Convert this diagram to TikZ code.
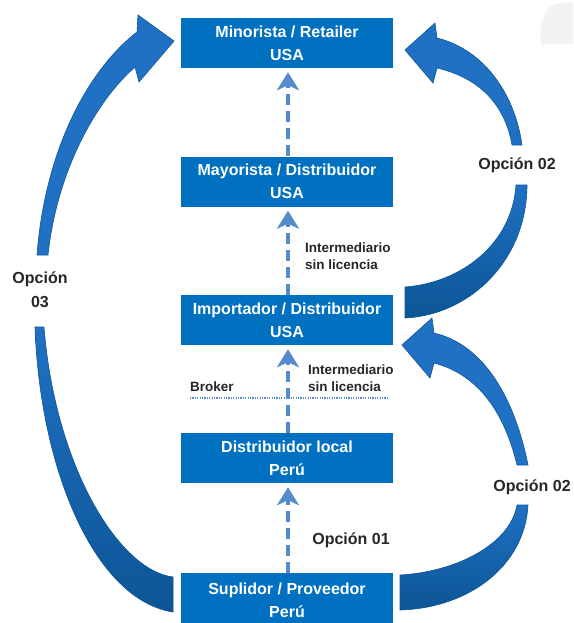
\documentclass[tikz,border=0pt]{standalone}
\usepackage{fontspec}
\setmainfont{Liberation Sans}
\usetikzlibrary{arrows.meta}
\definecolor{boxblue}{RGB}{0,112,192}
\definecolor{arrlight}{RGB}{32,112,196}
\definecolor{arrdark}{RGB}{12,86,150}
\definecolor{dashblue}{RGB}{86,138,206}
\definecolor{txt}{RGB}{38,38,38}
\tikzset{
  caja/.style={fill=boxblue, text=white, minimum width=212pt, minimum height=50pt,
    align=center, inner sep=0pt, font=\bfseries\fontsize{16}{23}\selectfont},
  flecha/.style={draw=dashblue, line width=4pt, dash pattern=on 11pt off 6pt,
    -{Stealth[length=18pt,width=22pt,inset=5pt]}, shorten >=4pt},
  etiq/.style={text=txt, align=left, inner sep=0pt, font=\bfseries\fontsize{13.5}{17}\selectfont},
  opc/.style={text=txt, align=center, inner sep=0pt, font=\bfseries\fontsize{16}{24}\selectfont},
  punta/.style={fill=arrlight, draw=arrdark, line width=0.6pt},
  cola/.style={top color=arrlight, bottom color=arrdark, draw=arrdark, line width=0.6pt}
}
\begin{document}
\begin{tikzpicture}[x=1pt,y=-1pt]
  \clip (0,0) rectangle (573,623);
  \fill[gray!10] (548,8) .. controls (558,3) .. (573,2) -- (573,44) -- (541,44) .. controls (540,25) .. (548,8);
  % cajas
  \node[caja] (retail) at (287,43)    {Minorista / Retailer\\USA};
  \node[caja] (mayor)  at (287,181.5) {Mayorista / Distribuidor\\USA};
  \node[caja] (import) at (287,320)   {Importador / Distribuidor\\USA};
  \node[caja] (local)  at (287,458)   {Distribuidor local\\Perú};
  \node[caja, minimum height=54pt] (supli) at (287,600) {Suplidor / Proveedor\\Perú};
  \foreach \de/\a in {mayor/retail, import/mayor, local/import, supli/local}
    \draw[flecha] ([xshift=1pt]\de.north) -- ([xshift=1pt]\a.south);
  % etiquetas
  \node[etiq, anchor=west] (int1) at (305,256) {Intermediario\\sin licencia};
  \node[etiq, anchor=west] (int2) at (308,378) {Intermediario\\sin licencia};
  \node[etiq, anchor=west] (brok) at (190,387) {Broker};
  \draw[dashblue, line width=1.2pt, dash pattern=on 1.2pt off 1.2pt] (190,398) -- (387,398);
  \node[opc] (op1)  at (351,540) {Opción 01};
  \node[opc] (op2a) at (517,165) {Opción 02};
  \node[opc] (op2b) at (532,487) {Opción 02};
  \node[opc] (op3)  at (40,290)  {Opción\\03};
  % opcion 03
  \filldraw[punta] (37,255) .. controls (44,160) and (82,75) .. (137,32) -- (138,15) -- (174,41)
    -- (139,82) -- (135,67) .. controls (97,100) and (57,170) .. (48,255) -- cycle;
  \shade[cola] (35,327) .. controls (40,470) and (95,600) .. (173,612) -- (173,577)
    .. controls (118,570) and (55,465) .. (44,327) -- cycle;
  % opcion 02 (arriba)
  \filldraw[punta] (522,145) .. controls (515,95) and (485,50) .. (437,38) -- (435,23) -- (405,50)
    -- (433,83) -- (437,68) .. controls (480,78) and (505,105) .. (512,145) -- cycle;
  \shade[cola] (516,185) -- (527,185) .. controls (527,260) and (470,315) .. (405,318) -- (405,287)
    .. controls (460,283) and (512,245) .. (516,185) -- cycle;
  % opcion 02 (abajo)
  \filldraw[punta] (528,465) .. controls (515,400) and (485,345) .. (434,333) -- (432,318) -- (402,345)
    -- (430,378) -- (434,363) .. controls (480,375) and (505,415) .. (517,465) -- cycle;
  \shade[cola] (517,505) -- (528,505) .. controls (525,565) and (470,608) .. (400,610) -- (400,575)
    .. controls (455,572) and (510,545) .. (517,505) -- cycle;
\end{tikzpicture}
\end{document}
